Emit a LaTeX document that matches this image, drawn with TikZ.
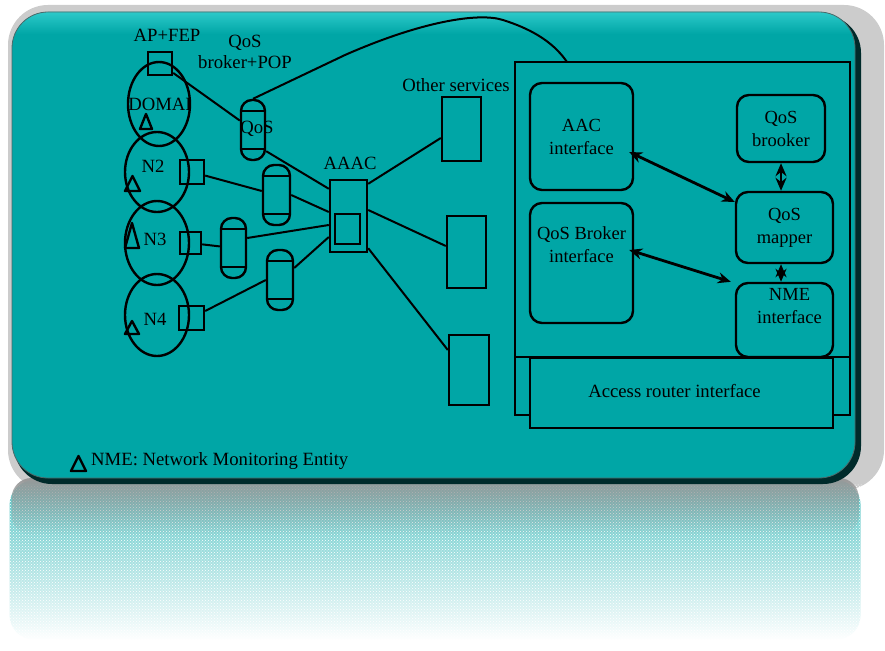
\documentclass[tikz,border=0pt]{standalone}
\usepackage{fontspec}
\setmainfont{Liberation Serif}
\usetikzlibrary{arrows.meta,shapes.geometric,patterns,fadings}
\definecolor{teal1}{HTML}{00A6A6}
\definecolor{tealhi}{HTML}{30CCCC}
\definecolor{tealdk}{HTML}{002A2A}
\begin{document}
\begin{tikzpicture}[x=1pt,y=-1pt,
  lw/.style={line width=2.4pt},
  box/.style={draw, lw, inner sep=0pt},
  rbox/.style={draw, lw, rounded corners=12pt, inner sep=0pt, align=center, font=\fontsize{18.5}{23}\selectfont},
  cyl/.style={draw, lw, rounded corners=11pt, minimum height=60pt, inner sep=0pt},
  ell/.style={draw, lw, ellipse, inner sep=0pt},
  lbl/.style={inner sep=0pt, align=center, font=\fontsize{18.7}{21}\selectfont},
  conn/.style={line width=2pt},
  dbl/.style={line width=2.8pt, {Stealth[length=13pt,width=11pt]}-{Stealth[length=13pt,width=11pt]}},
  tri/.style={lw, line join=round}
]
\useasboundingbox (0,0) rectangle (885,650);
% halftone shadow and reflection
\fill[gray!40, rounded corners=40pt] (8,5) rectangle (884,490);
\fill[teal1!70!white, path fading=south, rounded corners=25pt] (10,480) rectangle (862,640);
\fill[pattern=crosshatch dots, pattern color=white] (10,484) rectangle (862,640);
\fill[black!40, path fading=south, rounded corners=20pt] (12,478) rectangle (860,535);
% panel
\fill[tealdk, rounded corners=38pt] (14,15) rectangle (861,484);
\begin{scope}
  \clip[rounded corners=36pt] (12,12) rectangle (855,478);
  \fill[teal1] (0,0) rectangle (885,500);
  \shade[top color=tealhi, bottom color=teal1] (0,10) rectangle (885,34);
\end{scope}
\draw[tealdk!70, line width=0.8pt, rounded corners=36pt] (12,12) rectangle (855,478);

% left part: domains
\node[ell, minimum width=62pt, minimum height=84pt] (e1) at (159,104) {};
\node[ell, minimum width=64pt, minimum height=80pt] (e2) at (157,172) {};
\node[ell, minimum width=64pt, minimum height=84pt] (e3) at (157,243) {};
\node[ell, minimum width=64pt, minimum height=82pt] (e4) at (157,315) {};

\node[lbl] (tap) at (167,35) {AP+FEP};
\node[lbl] (tqb) at (245,52) {QoS\\broker+POP};
\node[lbl] (tdom) at (160,104) {DOMAI};
\node[lbl] (tn2) at (153,166) {N2};
\node[lbl] (tn3) at (155,239) {N3};
\node[lbl] (tn4) at (155,319) {N4};

\node[box, minimum width=24pt, minimum height=23pt] (ap) at (160,63.5) {};
\node[box, minimum width=24pt, minimum height=24pt] (s2) at (192,172) {};
\node[box, minimum width=21pt, minimum height=22pt] (s3) at (190.5,243) {};
\node[box, minimum width=25pt, minimum height=24pt] (s4) at (191.5,318) {};

% triangles
\draw[tri] (140,129) -- (146,114) -- (152,129) -- cycle;
\draw[tri] (125,191) -- (132.5,176) -- (140,191) -- cycle;
\draw[tri] (125,248) -- (132,223) -- (139,248) -- cycle;
\draw[tri] (125,334) -- (132,321) -- (139,334) -- cycle;

% cylinders
\node[cyl, minimum width=24pt] (cq) at (253,130) {};
\node[cyl, minimum width=27pt] (c2) at (276.5,195) {};
\node[cyl, minimum width=25pt] (c3) at (233.5,248) {};
\node[cyl, minimum width=26pt] (c4) at (280,280) {};
\foreach \c in {cq,c2,c3,c4}{
  \draw[lw] ([yshift=-12pt]\c.north west) -- ([yshift=-12pt]\c.north east);
  \draw[lw] ([yshift=12pt]\c.south west) -- ([yshift=12pt]\c.south east);
}
\node[lbl] (tcq) at (257,129) {QoS};

% AAAC
\node[lbl] (taaac) at (350,163) {AAAC};
\node[box, minimum width=37pt, minimum height=72pt] (aaac) at (348.5,216) {};
\node[box, minimum width=25pt, minimum height=30pt] (aaaci) at (347.5,229) {};

% other services
\node[lbl] (tos) at (456,85) {Other services};
\node[box, minimum width=39pt, minimum height=64pt] (o1) at (461.5,129) {};
\node[box, minimum width=39pt, minimum height=72pt] (o2) at (466.5,252) {};
\node[box, minimum width=40pt, minimum height=70pt] (o3) at (469,370) {};

% connectors left
\draw[conn] (ap) -- (cq);
\draw[conn] ([yshift=10pt]cq.south east) -- ([yshift=-10pt]aaac.north west);
\draw[conn] (s2) -- (c2);
\draw[conn] (c2.east) -- ([yshift=4pt]aaac.west);
\draw[conn] (s3) -- (c3);
\draw[conn] ([yshift=10pt]c3.east) -- ([yshift=-9pt]aaac.west);
\draw[conn] (s4) -- (c4.west);
\draw[conn] ([yshift=12pt]c4.east) -- ([yshift=-21pt]aaac.west);
\draw[conn] ([yshift=-5pt]aaac.north east) -- ([yshift=-9pt]o1.west);
\draw[conn] ([yshift=6pt]aaac.east) -- ([yshift=6pt]o2.west);
\draw[conn] ([yshift=5pt]aaac.south east) -- ([yshift=20pt]o3.west);

% right big box
\node[box, minimum width=335pt, minimum height=353pt] (big) at (682.5,238.5) {};
\coordinate (bigtop) at (567,62);
\draw[conn] (cq.north) -- (345,55) .. controls (420,22) and (478,12) .. (503,20) .. controls (528,28) and (552,40) .. (bigtop);
\draw[lw] (515,357) -- (850,357);
\node[rbox, minimum width=103pt, minimum height=107pt] (aac) at (581.5,136.5) {AAC\\interface};
\node[rbox, minimum width=103pt, minimum height=120pt] (qbi) at (581.5,263) {QoS Broker\\interface\\[14pt]};
\node[rbox, minimum width=88pt, minimum height=67pt] (qb) at (781,128.5) {QoS\\brooker};
\node[rbox, minimum width=97pt, minimum height=71pt] (qm) at (784.5,227.5) {QoS\\mapper};
\node[rbox, minimum width=97pt, minimum height=74pt] (nme) at (784.5,320) {\hspace*{10pt}NME\\\hspace*{10pt}interface\\[6pt]};
\node[box, fill=teal1, minimum width=303pt, minimum height=70pt, font=\fontsize{18.7}{21}\selectfont] (acc) at (681.5,393) {\raisebox{5pt}{Access router interface\hspace*{14pt}}};

\draw[dbl] ([xshift=-5pt,yshift=-15.5pt]aac.east) -- ([yshift=25.5pt]qm.west);
\draw[dbl] ([xshift=-5pt,yshift=13pt]qbi.east) -- ([xshift=-4pt]nme.north west);
\draw[dbl] (qb.south) -- (qb.south |- qm.north);
\draw[dbl] ([xshift=-3.5pt]qm.south) -- ([xshift=-3.5pt]nme.north);

% legend
\draw[tri] (71,471) -- (78.5,456) -- (86,471) -- cycle;
\node[lbl, anchor=west] (leg) at (91,461) {NME: Network Monitoring Entity};
\end{tikzpicture}
\end{document}
